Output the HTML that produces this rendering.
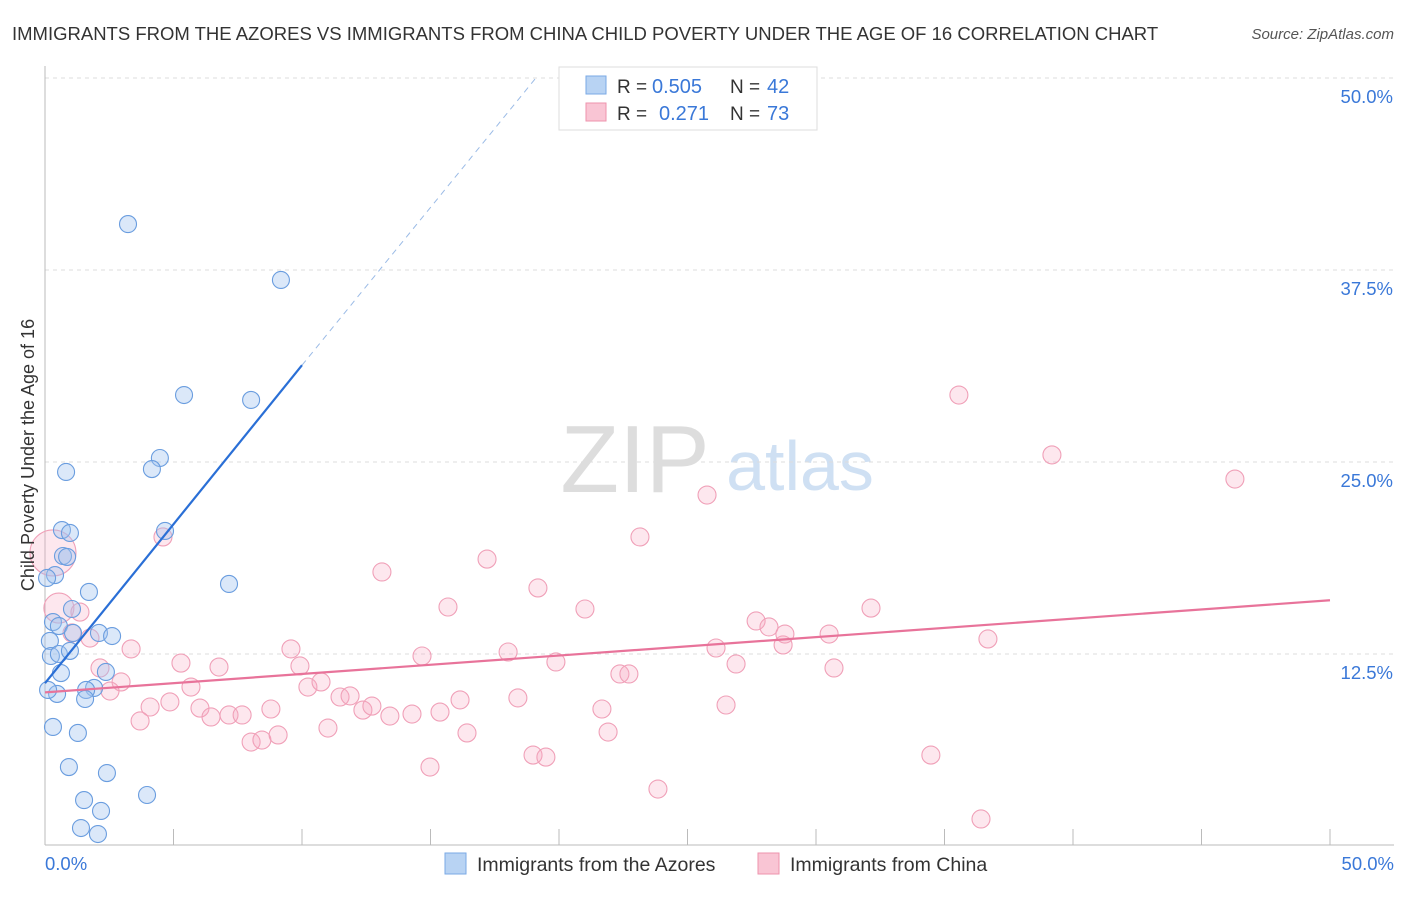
<!DOCTYPE html>
<html><head><meta charset="utf-8"><style>
body{margin:0;background:#fff;font-family:"Liberation Sans",sans-serif;}
svg text{font-family:"Liberation Sans",sans-serif;}
</style></head><body>
<svg width="1406" height="892" xmlns="http://www.w3.org/2000/svg" id="chart">
<text x="12" y="40" font-size="18.5" fill="#333">IMMIGRANTS FROM THE AZORES VS IMMIGRANTS FROM CHINA CHILD POVERTY UNDER THE AGE OF 16 CORRELATION CHART</text>
<text x="1394" y="39" font-size="15" fill="#555" text-anchor="end" font-style="italic">Source: ZipAtlas.com</text>
<text x="635" y="492" font-size="96" fill="#ddd" text-anchor="middle" font-family="Liberation Serif">ZIP</text>
<text x="800" y="490" font-size="70" fill="#cfe0f3" text-anchor="middle">atlas</text>
<g id="grid"></g>
<g id="axes"></g>
<g id="pts"></g>
<g id="lines"></g>
<text transform="translate(34,455) rotate(-90)" font-size="18" fill="#333" text-anchor="middle">Child Poverty Under the Age of 16</text>
<g>
<rect x="559" y="67" width="258" height="63" fill="#fff" stroke="#ddd"/>
<rect x="586" y="76" width="20" height="18" fill="#b8d3f3" stroke="#7aaae6"/>
<rect x="586" y="103" width="20" height="18" fill="#f9c5d4" stroke="#ee93ad"/>
<text x="617" y="93" font-size="19" fill="#333">R =</text>
<text x="652" y="93" font-size="20" fill="#3a78d8">0.505</text>
<text x="730" y="93" font-size="19" fill="#333">N =</text>
<text x="767" y="93" font-size="20" fill="#3a78d8">42</text>
<text x="617" y="120" font-size="19" fill="#333">R =</text>
<text x="659" y="120" font-size="20" fill="#3a78d8">0.271</text>
<text x="730" y="120" font-size="19" fill="#333">N =</text>
<text x="767" y="120" font-size="20" fill="#3a78d8">73</text>
</g>
<g>
<rect x="445" y="853" width="21" height="21" fill="#b8d3f3" stroke="#7aaae6"/>
<text x="477" y="871" font-size="19.5" fill="#333">Immigrants from the Azores</text>
<rect x="758" y="853" width="21" height="21" fill="#f9c5d4" stroke="#ee93ad"/>
<text x="790" y="871" font-size="19.5" fill="#333">Immigrants from China</text>
</g>
</svg>
<script>
const yTicks=[12.5,25,37.5,50];
const yTickLabels=["12.5%","25.0%","37.5%","50.0%"];
const xTicks=[0,5,10,15,20,25,30,35,40,45,50];
const azoresX=[3.23,9.18,5.41,8.02,4.47,4.16,0.82,4.67,0.66,0.97,0.70,0.86,0.39,0.08,1.71,1.05,0.31,0.54,1.09,2.10,2.61,0.19,0.23,0.54,0.97,0.62,2.37,1.91,1.60,1.56,0.47,0.31,1.28,0.93,2.41,3.97,1.52,2.18,1.40,2.06,7.16,0.12];
const azoresY=[40.49,36.85,29.36,29.04,25.26,24.54,24.35,20.51,20.57,20.38,18.88,18.82,17.64,17.45,16.54,15.43,14.58,14.32,13.87,13.87,13.67,13.35,12.37,12.50,12.70,11.26,11.33,10.29,10.16,9.57,9.90,7.75,7.36,5.14,4.75,3.32,2.99,2.28,1.17,0.78,17.06,10.16];
const chinaX=[0.31,0.54,1.36,1.05,1.75,3.35,2.14,2.96,2.53,4.59,5.29,6.77,5.68,4.86,4.09,3.70,6.03,6.46,7.16,7.67,8.79,8.02,8.44,9.07,9.57,9.92,10.23,10.74,11.01,11.48,11.87,12.37,12.72,13.11,13.42,14.28,14.67,14.98,15.37,15.68,16.15,16.42,17.20,18.02,18.40,18.99,19.18,19.49,19.88,21.01,21.67,21.91,22.37,22.72,23.15,23.85,25.76,26.11,26.50,26.89,27.67,28.17,28.72,28.79,30.51,30.70,32.14,34.47,35.56,36.42,36.69,39.18,46.30];
const chinaY=[19.08,15.49,15.23,13.87,13.54,12.83,11.59,10.68,10.09,20.12,11.91,11.65,10.35,9.38,9.05,8.14,8.98,8.40,8.53,8.53,8.92,6.77,6.90,7.23,12.83,11.72,10.35,10.68,7.68,9.70,9.77,8.85,9.11,17.84,8.46,8.59,12.37,5.14,8.72,15.56,9.51,7.36,18.68,12.63,9.64,5.92,16.80,5.79,11.98,15.43,8.92,7.42,11.20,11.20,20.12,3.71,22.85,12.89,9.18,11.85,14.65,14.26,13.09,13.80,13.80,11.59,15.49,5.92,29.36,1.76,13.48,25.46,23.89];
const chinaR=[23,15,9,9,9,9,9,9,9,9,9,9,9,9,9,9,9,9,9,9,9,9,9,9,9,9,9,9,9,9,9,9,9,9,9,9,9,9,9,9,9,9,9,9,9,9,9,9,9,9,9,9,9,9,9,9,9,9,9,9,9,9,9,9,9,9,9,9,9,9,9,9,9];
const blueLine=[[0,10.6],[10,31.3]];
const blueDash=[[10,31.3],[19.1,50]];
const pinkLine=[[0,10.0],[50,16.0]];
const X=v=>45+v*25.7, Y=v=>846-v*15.36;
const NS="http://www.w3.org/2000/svg";
function mk(p,t,a){const e=document.createElementNS(NS,t);for(const k in a)e.setAttribute(k,a[k]);document.getElementById(p).appendChild(e);return e;}
yTicks.forEach((v,i)=>{
 const l=mk('grid','line',{x1:45,x2:1394,y1:Y(v),y2:Y(v),stroke:'#ddd','stroke-dasharray':'4,4'});
 
 
 const t=mk('grid','text',{x:1393,y:Y(v)+25,'font-size':18.5,fill:'#3a78d8','text-anchor':'end'});
 t.textContent=yTickLabels[i];
 
 
});
let a=mk('axes','line',{x1:45,x2:1394,y1:845,y2:845,stroke:'#bbb'});


a=mk('axes','line',{x1:45,x2:45,y1:66,y2:845,stroke:'#bbb'});


xTicks.forEach(v=>{const t=mk('axes','line',{x1:X(v),x2:X(v),y1:829,y2:845,stroke:'#bbb'});
 
 });
let t=mk('axes','text',{x:45,y:870,'font-size':18.5,fill:'#3a78d8'});t.textContent='0.0%';


t=mk('axes','text',{x:1394,y:870,'font-size':18.5,fill:'#3a78d8','text-anchor':'end'});t.textContent='50.0%';


chinaX.forEach((v,i)=>{const c=mk('pts','circle',{cx:X(v),cy:Y(chinaY[i]),r:chinaR[i],fill:'rgba(247,170,195,0.28)',stroke:'#f0a0b8','stroke-width':1.1});
 
 });
azoresX.forEach((v,i)=>{const c=mk('pts','circle',{cx:X(v),cy:Y(azoresY[i]),r:8.5,fill:'rgba(160,195,240,0.38)',stroke:'#6a9ddf','stroke-width':1.1});
 
 });
let L=mk('lines','line',{x1:X(blueLine[0][0]),y1:Y(blueLine[0][1]),x2:X(blueLine[1][0]),y2:Y(blueLine[1][1]),stroke:'#2a6fd6','stroke-width':2.2});


L=mk('lines','line',{x1:X(blueDash[0][0]),y1:Y(blueDash[0][1]),x2:X(blueDash[1][0]),y2:Y(blueDash[1][1]),stroke:'#9bbbe6','stroke-width':1,'stroke-dasharray':'6,5'});


L=mk('lines','line',{x1:X(pinkLine[0][0]),y1:Y(pinkLine[0][1]),x2:X(pinkLine[1][0]),y2:Y(pinkLine[1][1]),stroke:'#e8739a','stroke-width':2.2});


</script>
</body></html>
